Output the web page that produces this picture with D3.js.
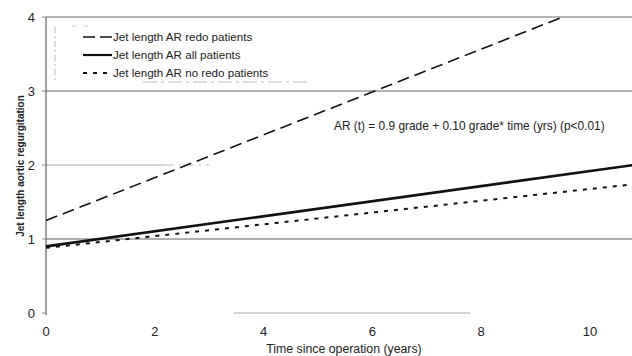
<!DOCTYPE html>
<html><head><meta charset="utf-8">
<script src="https://cdn.jsdelivr.net/npm/d3@7"></script>
<style>
html,body{margin:0;padding:0;background:#fff;}
svg{display:block;font-family:"Liberation Sans",Arial,sans-serif;}
</style></head>
<body><svg id="c" width="632" height="356"></svg>
<script>
// ---- data ----
const xTicks = [0, 2, 4, 6, 8, 10];
const yTicks = [0, 1, 2, 3, 4];
const timeRedo = [0, 9.5];
const arRedo = [1.25, 4.0];
const timeAll = [0, 10.8];
const arAll = [0.9, 2.0];
const timeNoRedo = [0, 10.8];
const arNoRedo = [0.88, 1.74];
const legendLabels = ["Jet length AR redo patients", "Jet length AR all patients", "Jet length AR no redo patients"];
const annotation = "AR (t) = 0.9 grade + 0.10 grade* time (yrs) (p<0.01)";
const xTitle = "Time since operation (years)";
const yTitle = "Jet length aortic regurgitation";

const svg = d3.select("#c");
const x = d3.scaleLinear().domain([0, 10]).range([46, 590]);
const y = d3.scaleLinear().domain([0, 4]).range([313, 17]);
const right = 632;

// gridlines
const gridStyle = {4:{c:"#666",w:1}, 3:{c:"#666",w:1}, 1:{c:"#b0b0b0",w:2}};
[4,3,1].forEach(v => {
  svg.append("line").attr("x1", x(0)).attr("x2", right).attr("y1", y(v)).attr("y2", y(v))
    .attr("stroke", gridStyle[v].c).attr("stroke-width", gridStyle[v].w);
});
// faint partial gridlines at 2 and 0
svg.append("line").attr("x1", x(0)).attr("x2", x(2.2)).attr("y1", y(2)).attr("y2", y(2))
  .attr("stroke", "#aaa").attr("stroke-width", 1.2);
svg.append("line").attr("x1", x(2.2)).attr("x2", x(3.0)).attr("y1", y(2)).attr("y2", y(2))
  .attr("stroke", "#bbb").attr("stroke-width", 1).attr("stroke-dasharray", "8,5,2,5");
svg.append("line").attr("x1", x(3.45)).attr("x2", x(7.8)).attr("y1", y(0)).attr("y2", y(0))
  .attr("stroke", "#aaa").attr("stroke-width", 1);

// faint legend box fragments
svg.append("line").attr("x1", 55).attr("x2", 55).attr("y1", 27).attr("y2", 82)
  .attr("stroke", "#bbb").attr("stroke-width", 1).attr("stroke-dasharray", "6,3,2,3");
svg.append("line").attr("x1", 143).attr("x2", 310).attr("y1", 82).attr("y2", 82)
  .attr("stroke", "#bbb").attr("stroke-width", 1).attr("stroke-dasharray", "14,4,3,4");
svg.append("line").attr("x1", 72).attr("x2", 95).attr("y1", 26).attr("y2", 26)
  .attr("stroke", "#ccc").attr("stroke-width", 1).attr("stroke-dasharray", "4,8");

// y axis line
svg.append("line").attr("x1", x(0)).attr("x2", x(0)).attr("y1", y(4)).attr("y2", y(0) + 2)
  .attr("stroke", "#444").attr("stroke-width", 1);

// tick labels
svg.selectAll(".yt").data(yTicks).enter().append("text")
  .attr("x", 35).attr("y", d => y(d)).attr("dy", "0.36em").attr("text-anchor", "end")
  .attr("font-size", 13).attr("fill", "#222").text(d => d);
svg.selectAll(".ys").data(yTicks).enter().append("line")
  .attr("x1", 42).attr("x2", x(0)).attr("y1", d => y(d)).attr("y2", d => y(d))
  .attr("stroke", "#888").attr("stroke-width", 1);
svg.selectAll(".xt").data(xTicks).enter().append("text")
  .attr("x", d => x(d)).attr("y", 331).attr("dy", "0.36em").attr("text-anchor", "middle")
  .attr("font-size", 13).attr("fill", "#222").text(d => d);

// axis titles
svg.append("text").attr("x", 344).attr("y", 349).attr("dy", "0.36em").attr("text-anchor", "middle")
  .attr("font-size", 12.3).attr("fill", "#222").text(xTitle);
svg.append("text").attr("transform", "translate(20,166) rotate(-90)").attr("dy", "0.36em")
  .attr("text-anchor", "middle").attr("font-size", 10).attr("font-weight", "bold")
  .attr("fill", "#222").text(yTitle);

// series lines
const line = d3.line().x(d => x(d[0])).y(d => y(d[1]));
const series = [
  {t: timeRedo, v: arRedo, w: 1.6, dash: "12,6"},
  {t: timeAll, v: arAll, w: 2.6, dash: null},
  {t: timeNoRedo, v: arNoRedo, w: 2, dash: "4,6"}
];
series.forEach(s => {
  const pts = s.t.map((t, i) => [t, s.v[i]]);
  const p = svg.append("path").attr("d", line(pts)).attr("fill", "none")
    .attr("stroke", "#111").attr("stroke-width", s.w);
  if (s.dash) p.attr("stroke-dasharray", s.dash);
});

// legend
const legY = [37, 55, 73];
const legSamples = [
  {w: 1.6, dash: "12,5"},
  {w: 2.2, dash: null},
  {w: 1.8, dash: "4,6"}
];
legendLabels.forEach((lab, i) => {
  const l = svg.append("line").attr("x1", 83).attr("x2", 112).attr("y1", legY[i]).attr("y2", legY[i])
    .attr("stroke", "#111").attr("stroke-width", legSamples[i].w);
  if (legSamples[i].dash) l.attr("stroke-dasharray", legSamples[i].dash);
  svg.append("text").attr("x", 113).attr("y", legY[i]).attr("dy", "0.36em")
    .attr("font-size", 11.6).attr("fill", "#222").text(lab);
});

// annotation
svg.append("text").attr("x", 334).attr("y", 126).attr("dy", "0.36em")
  .attr("font-size", 11.9).attr("fill", "#222").text(annotation);
</script>
</body></html>
